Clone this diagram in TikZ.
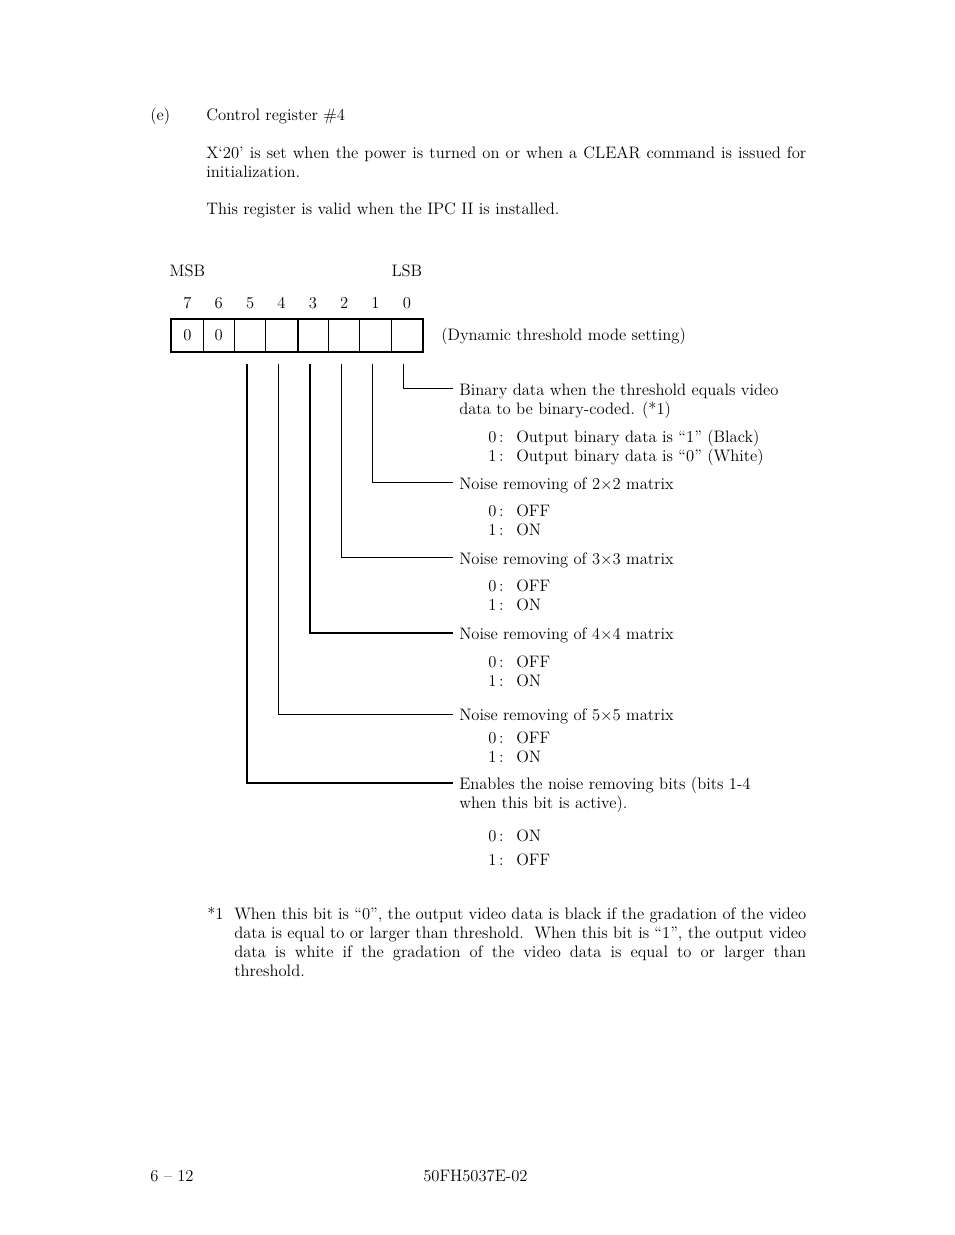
\documentclass[tikz,border=0pt]{standalone}
\usepackage{fontspec}
\usepackage{tikz}
\usetikzlibrary{calc,positioning}

\begin{document}
\begin{tikzpicture}[x=0.75pt,y=-0.75pt,
  font=\fontsize{12.45}{14.25}\selectfont,
  txt/.style={anchor=base west,inner sep=0pt},
  para/.style={anchor=base west,inner sep=0pt,align=justify},
  cell/.style={draw,line width=0.75pt,minimum width=23.52pt,minimum height=24pt,inner sep=0pt},
  bitnum/.style={inner sep=0pt},
  lab/.style={anchor=base west,inner xsep=4.5pt,inner ysep=0pt},
  lead/.style={line width=0.75pt},
  leadbold/.style={line width=1.5pt}]
\useasboundingbox (0,0) rectangle (954,1235);
% heading and intro
\node[txt] (item) at (150,120) {(e)};
\node[txt] (title) at (206,120) {Control register \#4};
\node[para,text width=450pt] (intro) at (206,158) {X`20' is set when the power is turned on or when a CLEAR command is issued for \linebreak initialization.};
\node[txt] (valid) at (206,214) {This register is valid when the IPC II is installed.};
% register layout
\node[bitnum] (msb) at (187.4,271) {MSB};
\node[bitnum] (lsb) at (406.9,271) {LSB};
\foreach \i/\v in {7/0,6/0,5/,4/,3/,2/,1/,0/}{
  \node[cell] (b\i) at ({187.4+31.36*(7-\i)},335) {\v};
  \node[bitnum] (n\i) at ({187.4+31.36*(7-\i)},303) {\i};
}
\draw[line width=1.5pt] (b7.north west) rectangle (b0.south east);
\draw[line width=1.5pt] (b4.north east) -- (b4.south east);
\node[txt] (mode) at (441,340) {(Dynamic threshold mode setting)};
% bit descriptions
\node[lab] (lab0) at (453,395) {Binary data when the threshold equals video};
\node[txt] (lab0b) at (459,414) {data to be binary-coded. (*1)};
\node[lab] (lab1) at (453,489) {Noise removing of 2$\times$2 matrix};
\node[lab] (lab2) at (453,564) {Noise removing of 3$\times$3 matrix};
\node[lab] (lab3) at (453,639.5) {Noise removing of 4$\times$4 matrix};
\node[lab] (lab4) at (453,720) {Noise removing of 5$\times$5 matrix};
\node[lab] (lab5) at (453,789.5) {Enables the noise removing bits (bits 1-4};
\node[txt] (lab5b) at (459,808.5) {when this bit is active).};
\foreach \y/\k/\t in {442/0/Output binary data is ``1'' (Black),461/1/Output binary data is ``0'' (White),
  516/0/OFF,535/1/ON,591/0/OFF,610/1/ON,667/0/OFF,686/1/ON,743/0/OFF,762/1/ON,841/0/ON,865/1/OFF}{
  \node[txt] (k\y) at (488,\y) {\k\,:};
  \node[txt] (v\y) at (516,\y) {\t};
}
% leader lines
\draw[lead] ([xshift=-2.25pt,yshift=-9pt]b0.south) |- ([yshift=5.25pt]lab0.base west);
\draw[lead] ([xshift=-2.25pt,yshift=-9pt]b1.south) |- ([yshift=5.25pt]lab1.base west);
\draw[lead] ([xshift=-2.25pt,yshift=-9pt]b2.south) |- ([yshift=5.25pt]lab2.base west);
\draw[leadbold] ([xshift=-2.25pt,yshift=-9pt]b3.south) |- ([yshift=5.25pt]lab3.base west);
\draw[lead] ([xshift=-2.25pt,yshift=-9pt]b4.south) |- ([yshift=4.5pt]lab4.base west);
\draw[leadbold] ([xshift=-2.25pt,yshift=-9pt]b5.south) |- ([yshift=5.25pt]lab5.base west);
% footnote
\node[txt] (fnmark) at (207,919) {*1};
\node[para,text width=429pt] (fn) at (234,919) {When this bit is ``0'', the output video data is black if the gradation of the video \linebreak data is equal to or larger than threshold.\ \ When this bit is ``1'', the output video \linebreak data is white if the gradation of the video data is equal to or larger than \linebreak threshold.};
% page footer
\node[txt] (page) at (150,1181) {6 -- 12};
\node[txt] (docno) at (423,1181) {50FH5037E-02};
\end{tikzpicture}
\end{document}
